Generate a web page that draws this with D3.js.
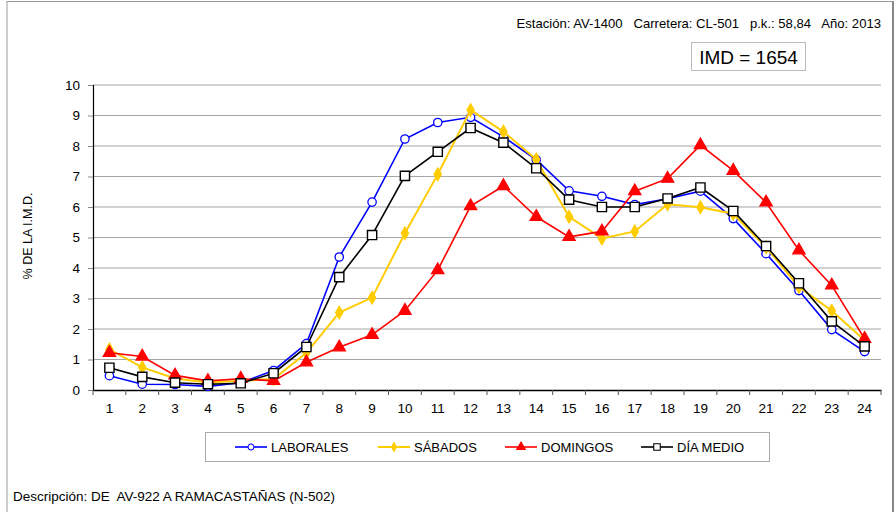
<!DOCTYPE html>
<html><head><meta charset="utf-8">
<script src="https://cdn.jsdelivr.net/npm/d3@7"></script>
<style>body{margin:0;background:#fff}svg{display:block;font-family:Arial,"Liberation Sans",sans-serif}svg text{white-space:pre}</style>
</head><body>
<svg id="c" width="896" height="512"></svg>
<script>
const hours = ["1","2","3","4","5","6","7","8","9","10","11","12","13","14","15","16","17","18","19","20","21","22","23","24"];
const laborales = [0.47,0.19,0.18,0.12,0.24,0.64,1.52,4.36,6.16,8.23,8.77,8.94,8.3,7.55,6.53,6.35,6.08,6.27,6.52,5.62,4.47,3.26,1.98,1.26];
const sabados   = [1.33,0.74,0.38,0.25,0.3,0.36,1.22,2.54,3.03,5.14,7.07,9.18,8.47,7.56,5.68,4.97,5.2,6.09,5.99,5.78,4.68,3.38,2.6,1.63];
const domingos  = [1.22,1.1,0.48,0.3,0.37,0.3,0.91,1.4,1.81,2.6,3.93,6.03,6.69,5.68,5.02,5.2,6.52,6.93,8.03,7.19,6.15,4.58,3.43,1.68];
const diaMedio  = [0.73,0.43,0.24,0.19,0.22,0.55,1.41,3.7,5.08,7.02,7.81,8.59,8.11,7.27,6.24,6.0,6.0,6.28,6.64,5.87,4.72,3.5,2.25,1.43];
const yTicks = [0,1,2,3,4,5,6,7,8,9,10];
const seriesNames = ["LABORALES","SÁBADOS","DOMINGOS","DÍA MEDIO"];
const headerText = "Estación: AV-1400   Carretera: CL-501   p.k.: 58,84   Año: 2013";
const imdText = "IMD = 1654";
const yLabel = "% DE LA I.M.D.";
const descText = "Descripción: DE  AV-922 A RAMACASTAÑAS (N-502)";

const series = [
  {name: seriesNames[0], values: laborales, color: "#0000FF", sym: "circle"},
  {name: seriesNames[1], values: sabados, color: "#FFCC00", sym: "diamond"},
  {name: seriesNames[2], values: domingos, color: "#FF0000", sym: "triangle"},
  {name: seriesNames[3], values: diaMedio, color: "#000000", sym: "square"}
];

const svg = d3.select("#c");
// outer frame
svg.append("line").attr("x1",7).attr("x2",7).attr("y1",1).attr("y2",512).attr("stroke","#aaa").attr("stroke-width",1.2);
svg.append("line").attr("x1",7).attr("x2",893).attr("y1",1.5).attr("y2",1.5).attr("stroke","#999").attr("stroke-width",1.2);
svg.append("line").attr("x1",893).attr("x2",893).attr("y1",1).attr("y2",512).attr("stroke","#888").attr("stroke-width",2);

const L = 93, R = 881, T = 85, B = 390;
const x = d3.scaleBand().domain(hours).range([L,R]);
const y = d3.scaleLinear().domain([0,10]).range([B,T]);
const cx = h => x(h) + x.bandwidth()/2;

// gridlines
svg.append("g").selectAll("line").data(yTicks.filter(d=>d>0)).join("line")
  .attr("x1",L).attr("x2",R).attr("y1",d=>y(d)).attr("y2",d=>y(d))
  .attr("stroke","#a6a6a6").attr("stroke-width",1.2);

// y axis
const ya = svg.append("g").attr("transform",`translate(${L},0)`)
  .call(d3.axisLeft(y).tickValues(yTicks).tickSize(5).tickPadding(8));
ya.select(".domain").attr("stroke","#000").attr("stroke-width",1.2);
ya.selectAll(".tick line").attr("stroke","#888");
ya.selectAll("text").attr("font-size",13.5).attr("fill","#000").attr("font-family","Arial, 'Liberation Sans', sans-serif");

// x axis
const xa = svg.append("g").attr("transform",`translate(0,${B})`)
  .call(d3.axisBottom(x).tickSize(0).tickPadding(13));
xa.select(".domain").attr("stroke","#000").attr("stroke-width",1.5);
xa.selectAll("text").attr("font-size",13.5).attr("fill","#000").attr("font-family","Arial, 'Liberation Sans', sans-serif");
// boundary ticks
const bounds = hours.map(h=>x(h)).concat([R]);
svg.append("g").selectAll("line").data(bounds).join("line")
  .attr("x1",d=>d).attr("x2",d=>d).attr("y1",B).attr("y2",B+5)
  .attr("stroke","#555").attr("stroke-width",1);

// y label
svg.append("text").attr("transform","translate(32,236) rotate(-90)")
  .attr("text-anchor","middle").attr("font-size",12.5).text(yLabel);

// series
const symMap = {circle: d3.symbolCircle, diamond: d3.symbolDiamond, triangle: d3.symbolTriangle, square: d3.symbolSquare};
const sizeMap = {circle: 55, diamond: 45, triangle: 65, square: 85};
const line = d3.line().x((d,i)=>cx(hours[i])).y(d=>y(d));
series.forEach(s=>{
  const g = svg.append("g");
  g.append("path").attr("d", line(s.values)).attr("fill","none")
    .attr("stroke", s.color).attr("stroke-width", s.sym==="diamond"?2:1.6);
  g.selectAll("path.m").data(s.values).join("path").attr("class","m")
    .attr("transform",(d,i)=>`translate(${cx(hours[i])},${y(d)})`)
    .attr("d", d3.symbol().type(symMap[s.sym]).size(sizeMap[s.sym]))
    .attr("fill", (s.sym==="circle"||s.sym==="square") ? "#fff" : s.color)
    .attr("stroke", s.color).attr("stroke-width", s.sym==="square"?1.4:1.3);
});

// header
svg.append("text").attr("x",881).attr("y",28).attr("text-anchor","end")
  .attr("font-size",13.1).text(headerText);
// IMD box
svg.append("rect").attr("x",691.5).attr("y",42.5).attr("width",114).attr("height",28)
  .attr("fill","#fff").attr("stroke","#bbb").attr("stroke-width",1);
svg.append("text").attr("x",748.5).attr("y",64).attr("text-anchor","middle")
  .attr("font-size",19).text(imdText);

// legend
svg.append("rect").attr("x",205.5).attr("y",432.5).attr("width",564).attr("height",29)
  .attr("fill","#fff").attr("stroke","#aaa").attr("stroke-width",1);
const legX = [235, 378, 505, 641];
series.forEach((s,i)=>{
  const g = svg.append("g").attr("transform",`translate(${legX[i]},447)`);
  g.append("line").attr("x1",0).attr("x2",32).attr("stroke",s.color).attr("stroke-width",s.sym==="diamond"?2:1.6);
  g.append("path").attr("transform","translate(16,0)")
    .attr("d", d3.symbol().type(symMap[s.sym]).size(sizeMap[s.sym]*0.5))
    .attr("fill", (s.sym==="circle"||s.sym==="square") ? "#fff" : s.color)
    .attr("stroke", s.color).attr("stroke-width",1.1);
  g.append("text").attr("x",36).attr("y",5).attr("font-size",13).text(s.name);
});

// description
svg.append("text").attr("x",13).attr("y",501).attr("font-size",13.5).text(descText);
</script>
</body></html>
